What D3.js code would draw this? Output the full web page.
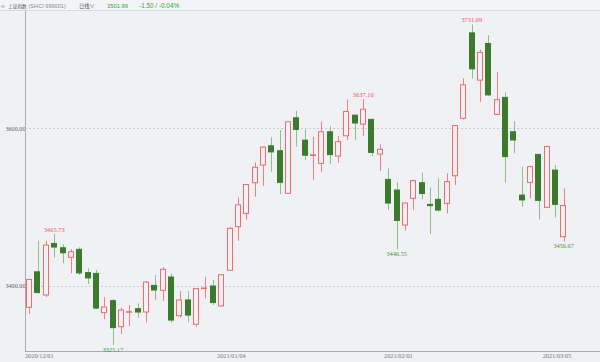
<!DOCTYPE html>
<html><head><meta charset="utf-8">
<script src="https://cdn.jsdelivr.net/npm/d3@7"></script>
<style>
html,body{margin:0;padding:0;background:#eff1f4;}
svg{display:block;font-family:"Liberation Sans",Arial,sans-serif;}
</style></head>
<body>
<svg id="chart" width="600" height="362"></svg>
<script>
const dates = ["2020/11/27","2020/11/30","2020/12/01","2020/12/02","2020/12/03","2020/12/04","2020/12/07","2020/12/08","2020/12/09","2020/12/10","2020/12/11","2020/12/14","2020/12/15","2020/12/16","2020/12/17","2020/12/18","2020/12/21","2020/12/22","2020/12/23","2020/12/24","2020/12/25","2020/12/28","2020/12/29","2020/12/30","2020/12/31","2021/01/04","2021/01/05","2021/01/06","2021/01/07","2021/01/08","2021/01/11","2021/01/12","2021/01/13","2021/01/14","2021/01/15","2021/01/18","2021/01/19","2021/01/20","2021/01/21","2021/01/22","2021/01/25","2021/01/26","2021/01/27","2021/01/28","2021/01/29","2021/02/01","2021/02/02","2021/02/03","2021/02/04","2021/02/05","2021/02/08","2021/02/09","2021/02/10","2021/02/18","2021/02/19","2021/02/22","2021/02/23","2021/02/24","2021/02/25","2021/02/26","2021/03/01","2021/03/02","2021/03/03","2021/03/04","2021/03/05"];
const open  = [3373,3418,3388.6,3454,3448.5,3436.4,3446.5,3417,3416,3366.2,3381.4,3348.4,3366.8,3371.2,3367,3400.8,3394.5,3411.4,3362.4,3382.3,3351.5,3397,3400,3374.7,3420,3475.2,3492.1,3530.9,3553.4,3577.8,3571.5,3517.5,3613.3,3585,3565.5,3555.5,3595.6,3564.8,3590.5,3616.6,3605.3,3611.3,3567.3,3535.2,3521.7,3477.3,3511.2,3531,3503.5,3509.9,3504.8,3539.8,3612.7,3721,3661.1,3707.6,3617.6,3639.2,3595.6,3515.3,3531.4,3566.9,3499.7,3547,3462.5];
const high  = [3409,3457.4,3457.4,3465.73,3452.9,3446.9,3449,3422.4,3420.3,3385.7,3383.5,3372.5,3376,3378,3406.3,3414,3423.7,3415.6,3393.7,3393.7,3397.8,3411.8,3407.6,3414.8,3475.2,3512.4,3529.5,3556.8,3577,3588.5,3597.7,3609,3622.2,3598.6,3589.2,3608.7,3602.8,3590,3636.6,3618,3637.1,3612,3579.6,3549.1,3531.4,3505.5,3535,3543.6,3525,3536.5,3542.8,3604,3663.2,3731.69,3700,3718.1,3671.6,3645.5,3609.1,3551.2,3552.5,3567.5,3578,3553.4,3523.8];
const low   = [3364.7,3390,3386,3436,3428.8,3416,3414,3402.5,3370.5,3357.8,3325.17,3339,3349,3359.8,3353.5,3382.3,3381,3353.5,3359.8,3354,3348.4,3384.4,3375.9,3374.3,3419.4,3457.4,3484.5,3513.2,3526.7,3544.9,3516.6,3517,3576.5,3559.7,3534.3,3544.5,3555,3556.3,3585,3585,3590.5,3564.8,3546,3496.3,3446.55,3470.1,3496.3,3509.9,3466,3494.2,3492.1,3528,3611,3663.2,3633.7,3641,3617,3531,3568.2,3500.5,3511.2,3484.5,3499,3487,3456.67];
const close = [3408.3,3391.8,3451.9,3449.4,3442.1,3443.5,3416.6,3410.2,3372,3373.3,3347.2,3369.6,3367.5,3367,3405,3394.9,3421.2,3356.8,3382.3,3363.1,3396.6,3397.5,3379,3414.3,3473.1,3502.9,3528.7,3550.6,3576.2,3570.1,3531.5,3608.3,3598.6,3565.9,3566.4,3595.6,3566.6,3583.1,3621.3,3606.7,3624.2,3569.4,3573.3,3505.2,3483.1,3505.3,3533.7,3517.3,3501.9,3496.3,3532.4,3603.5,3655.1,3675.4,3696.2,3642.4,3636.4,3564.1,3585.1,3509.1,3551.4,3508.6,3576.9,3503.5,3502];
const yTicks = [3400, 3600];
const xTickDates = ["2020/12/01","2021/01/04","2021/02/01","2021/03/05"];
const highLabels = [3, 40, 53];   // indices with max labels
const lowLabels = [10, 44, 64];   // indices with min labels
const headerItems = ["∞", "上证指数", "(SHCI 999001)", "日线∨", "3501.99", "-1.50 / -0.04%"];

const RED = "#f26b6b", RED_W = "#f47e7e", GREEN = "#3c7a2d", GREEN_W = "#8cc27f";
const svg = d3.select("#chart");
const idx = d3.range(dates.length);
const x = d3.scaleBand().domain(idx).range([25.1, 567.8]).paddingInner(0.25).paddingOuter(0.125);
const y = d3.scaleLinear().domain([3400, 3600]).range([286, 128.3]);
const cx = i => x(i) + x.bandwidth() / 2;

// header
svg.append("rect").attr("x",0).attr("y",0).attr("width",600).attr("height",10.5).attr("fill","#f3f4f6");
svg.append("line").attr("x1",0).attr("x2",600).attr("y1",10.5).attr("y2",10.5).attr("stroke","#d8dbe0");
const hX = [1, 8, 28.5, 79, 107, 139];
const hSize = [5.5, 4.7, 5.6, 5.2, 5.8, 6.4];
const hCol = ["#888","#555","#888","#555","#3aa13a","#3aa13a"];
svg.append("g").selectAll("text").data(headerItems).join("text")
  .attr("x",(d,i)=>hX[i]).attr("y",7.6)
  .attr("font-size",(d,i)=>hSize[i])
  .attr("font-family",(d,i)=>(i===1||i===3)?"'Noto Sans CJK SC',sans-serif":"'Liberation Sans',sans-serif")
  .attr("fill",(d,i)=>hCol[i]).text(d=>d);

// grid
svg.append("g").selectAll("line").data(yTicks).join("line")
  .attr("x1",25).attr("x2",600).attr("y1",d=>Math.round(y(d))+0.5).attr("y2",d=>Math.round(y(d))+0.5)
  .attr("stroke","#c9ccd2").attr("stroke-dasharray","2,2");

// axes
const yAxis = svg.append("g").attr("transform","translate(25.5,0)")
  .call(d3.axisLeft(y).tickValues(yTicks).tickFormat(d3.format(".2f")).tickSize(0).tickPadding(0));
yAxis.select(".domain").remove();
yAxis.selectAll("text").attr("font-size",6.2).attr("fill","#666").attr("font-family","'Liberation Serif',serif");
svg.append("line").attr("x1",25.5).attr("x2",25.5).attr("y1",10.5).attr("y2",351.5).attr("stroke","#a9adb3");

const xAxis = svg.append("g").attr("transform","translate(0,351.5)")
  .call(d3.axisBottom(x).tickValues(idx.filter(i=>xTickDates.includes(dates[i]))).tickFormat(i=>dates[i]).tickSize(0).tickPadding(2));
xAxis.select(".domain").remove();
xAxis.selectAll("text").attr("font-size",6.3).attr("fill","#777").attr("text-anchor","start").attr("dx",-21)
  .attr("font-family","'Liberation Serif',serif");
svg.append("line").attr("x1",25).attr("x2",600).attr("y1",351.5).attr("y2",351.5).attr("stroke","#a9adb3");

// candles
const up = i => close[i] >= open[i];
const g = svg.append("g");
g.selectAll("line.wick").data(idx).join("line").attr("class","wick")
  .attr("x1",i=>Math.round(cx(i))+0.5).attr("x2",i=>Math.round(cx(i))+0.5)
  .attr("y1",i=>y(high[i])).attr("y2",i=>y(low[i]))
  .attr("stroke",i=>up(i)?RED_W:GREEN_W).attr("stroke-width",1);
g.selectAll("rect.body").data(idx).join("rect").attr("class","body")
  .attr("x",i=>Math.round(x(i))+0.5).attr("width",Math.round(x.bandwidth())-1)
  .attr("y",i=>y(Math.max(open[i],close[i])))
  .attr("height",i=>Math.max(0.6, y(Math.min(open[i],close[i]))-y(Math.max(open[i],close[i]))))
  .attr("fill",i=>up(i)?"#eff1f4":GREEN)
  .attr("stroke",i=>up(i)?RED:GREEN).attr("stroke-width",1);

// extreme labels
svg.append("g").selectAll("text").data(highLabels).join("text")
  .attr("x",i=>cx(i)).attr("y",i=>y(high[i])-2).attr("text-anchor","middle")
  .attr("font-size",6.4).attr("fill","#f05555").attr("font-family","'Liberation Serif',serif")
  .text(i=>high[i].toFixed(2));
svg.append("g").selectAll("text").data(lowLabels).join("text")
  .attr("x",i=>cx(i)).attr("y",i=>y(low[i])+6.5).attr("text-anchor","middle")
  .attr("font-size",6.4).attr("fill","#3f9a3f").attr("font-family","'Liberation Serif',serif")
  .text(i=>low[i].toFixed(2));
</script>
</body></html>
